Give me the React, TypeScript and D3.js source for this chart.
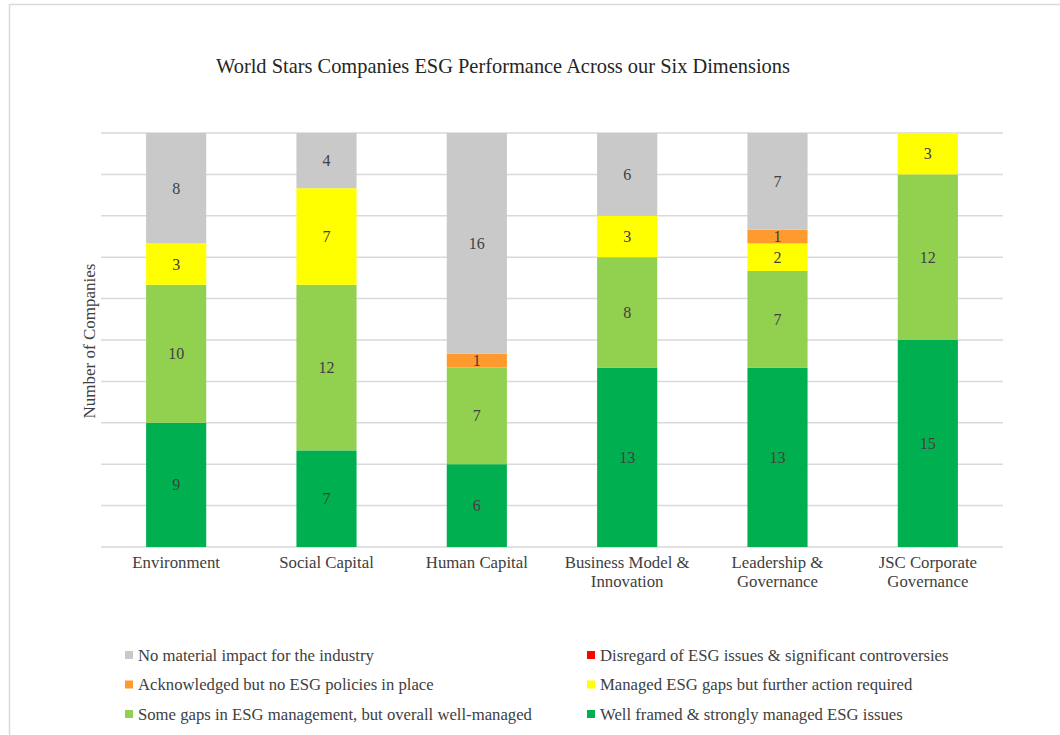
import React from "react";
import * as d3 from "d3";

const categories: string[][] = [
  ["Environment"],
  ["Social Capital"],
  ["Human Capital"],
  ["Business Model &", "Innovation"],
  ["Leadership &", "Governance"],
  ["JSC Corporate", "Governance"],
];

const wellFramed = [9, 7, 6, 13, 13, 15];
const someGaps = [10, 12, 7, 8, 7, 12];
const managedGaps = [3, 7, 0, 3, 2, 3];
const disregard = [0, 0, 0, 0, 0, 0];
const acknowledged = [0, 0, 1, 0, 1, 0];
const noMaterial = [8, 4, 16, 6, 7, 0];

const seriesNames = [
  "Well framed & strongly managed ESG issues",
  "Some gaps in ESG management, but overall well-managed",
  "Managed ESG gaps but further action required",
  "Disregard of ESG issues & significant controversies",
  "Acknowledged but no ESG policies in place",
  "No material impact for the industry",
];
const seriesColors = ["#00b050", "#92d050", "#ffff00", "#ff0000", "#ff9a2e", "#c9c9c9"];
const seriesValues = [wellFramed, someGaps, managedGaps, disregard, acknowledged, noMaterial];

// legend order: rows (left, right)
const legendOrder = [5, 3, 4, 2, 1, 0];

const yTicks = [0, 3, 6, 9, 12, 15, 18, 21, 24, 27, 30];

const FONT = "'Liberation Serif', 'Times New Roman', serif";

export default function App() {
  const W = 1060;
  const H = 735;
  const left = 101;
  const right = 1003;
  const top = 133;
  const bottom = 547;

  const x = d3
    .scaleBand<number>()
    .domain(categories.map((_, i) => i))
    .range([left, right])
    .paddingInner(0.6)
    .paddingOuter(0.3);
  const y = d3.scaleLinear().domain([0, 30]).range([bottom, top]);

  const table = categories.map((_, i) => {
    const row: Record<string, number> = { idx: i };
    seriesNames.forEach((n, s) => (row[n] = seriesValues[s][i]));
    return row;
  });
  const stacked = d3.stack<Record<string, number>>().keys(seriesNames)(table);

  return (
    <svg
      width={W}
      height={H}
      style={{ position: "absolute", left: 0, top: 0, background: "#fff" }}
      fontFamily={FONT}
    >
      <rect x={0} y={0} width={W} height={H} fill="#fff" />
      <line x1={9.5} y1={4.5} x2={W} y2={4.5} stroke="#d9d9d9" strokeWidth={1.5} />
      <line x1={9.5} y1={4.5} x2={9.5} y2={H} stroke="#d9d9d9" strokeWidth={1.5} />

      <text x={503} y={73} textAnchor="middle" fontSize={20.4} fill="#262626">
        World Stars Companies ESG Performance Across our Six Dimensions
      </text>

      {yTicks.map((t) => (
        <line
          key={t}
          x1={left}
          x2={right}
          y1={y(t)}
          y2={y(t)}
          stroke="#d9d9d9"
          strokeWidth={1.5}
        />
      ))}

      {stacked.map((layer, s) => (
        <g key={layer.key} fill={seriesColors[s]}>
          {layer.map((d, i) =>
            d[1] - d[0] > 0 ? (
              <rect
                key={i}
                x={x(i)}
                width={x.bandwidth()}
                y={y(d[1])}
                height={y(d[0]) - y(d[1])}
              />
            ) : null
          )}
        </g>
      ))}

      {stacked.map((layer, s) => (
        <g key={layer.key + "-lbl"}>
          {layer.map((d, i) =>
            d[1] - d[0] > 0 ? (
              <text
                key={i}
                x={(x(i) as number) + x.bandwidth() / 2}
                y={(y(d[0]) + y(d[1])) / 2 + 5.5}
                textAnchor="middle"
                fontSize={16}
                fill="#404040"
              >
                {d[1] - d[0]}
              </text>
            ) : null
          )}
        </g>
      ))}

      {categories.map((lines, i) => (
        <text
          key={i}
          x={(x(i) as number) + x.bandwidth() / 2}
          y={568}
          textAnchor="middle"
          fontSize={16.8}
          fill="#404040"
        >
          {lines.map((l, k) => (
            <tspan key={k} x={(x(i) as number) + x.bandwidth() / 2} dy={k === 0 ? 0 : 19}>
              {l}
            </tspan>
          ))}
        </text>
      ))}

      <text
        transform={`translate(95, 341) rotate(-90)`}
        textAnchor="middle"
        fontSize={17}
        fill="#404040"
      >
        Number of Companies
      </text>

      {legendOrder.map((s, k) => {
        const col = k % 2;
        const row = Math.floor(k / 2);
        const lx = col === 0 ? 125 : 587;
        const ly = 655 + row * 29.5;
        return (
          <g key={s}>
            <rect x={lx} y={ly - 4} width={8} height={8} fill={seriesColors[s]} />
            <text x={lx + 13} y={ly + 5.5} fontSize={16.7} fill="#404040">
              {seriesNames[s]}
            </text>
          </g>
        );
      })}
    </svg>
  );
}
